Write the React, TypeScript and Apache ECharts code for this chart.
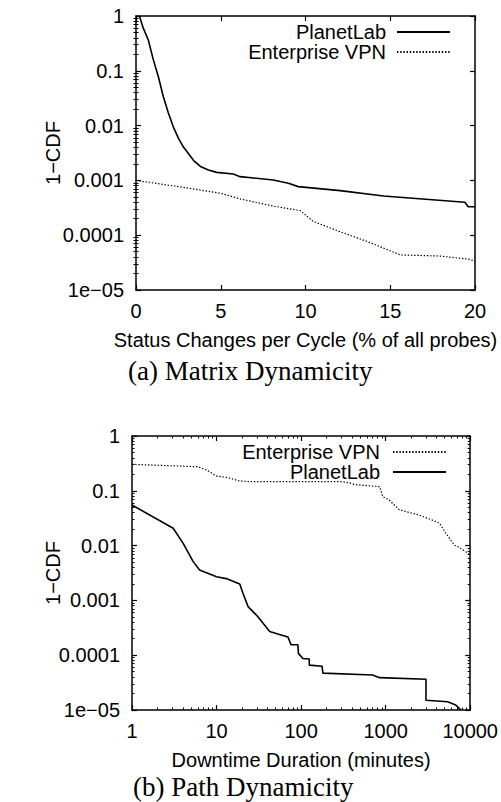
import React, { useEffect, useRef } from "react";
import * as echarts from "echarts";

// ---------- data ----------
const yTickLabels = ["1e−05", "0.0001", "0.001", "0.01", "0.1", "1"];
const pathXTickLabels = ["1", "10", "100", "1000", "10000"];

// (a) Matrix Dynamicity: [status changes per cycle (%), 1-CDF]
const matrixPlanetLab: [number, number][] = [
  [0.2, 1], [0.43, 0.6], [0.73, 0.36], [1.02, 0.16], [1.32, 0.078], [1.61, 0.034],
  [1.91, 0.017], [2.2, 0.0095], [2.5, 0.0059], [2.79, 0.0041], [3.09, 0.0031],
  [3.4, 0.0023], [3.8, 0.0018], [4.27, 0.00155], [4.76, 0.0014], [5.74, 0.00131], [6.14, 0.00117],
  [8.1, 0.00102], [8.99, 0.00089], [9.57, 0.00077], [12.04, 0.00065], [14.6, 0.00052],
  [19.4, 0.0004], [19.6, 0.00033], [20, 0.00033],
];
const matrixEnterprise: [number, number][] = [
  [0, 0.001], [2.5, 0.00077], [5, 0.00058], [6.14, 0.00046], [8.1, 0.00034],
  [9.7, 0.00028], [10.46, 0.000178], [12.04, 0.000116], [13.6, 0.0000776],
  [15.6, 0.0000436], [17.9, 0.0000417], [19.7, 0.0000363], [20, 0.000033],
];

// (b) Path Dynamicity: [downtime duration (minutes), 1-CDF]
const pathEnterprise: [number, number][] = [
  [1, 0.304], [6, 0.275], [7.6, 0.24], [10, 0.186], [13.7, 0.174], [18, 0.153],
  [24, 0.147], [300, 0.147], [372, 0.14], [430, 0.13], [850, 0.119], [925, 0.078],
  [1100, 0.068], [1450, 0.045], [2500, 0.036], [4300, 0.026], [5150, 0.017],
  [6500, 0.0102], [7400, 0.0093], [10000, 0.0068],
];
const pathPlanetLab: [number, number][] = [
  [1, 0.055], [3.07, 0.0207], [4.03, 0.011], [5.29, 0.0051], [6.3, 0.0036],
  [10, 0.0027], [13, 0.0025], [18.8, 0.002], [20.6, 0.00134], [23.6, 0.00077],
  [31, 0.0005], [42.5, 0.00027], [58, 0.000234], [70, 0.000214], [76, 0.000155],
  [91.6, 0.000155], [93, 0.000108], [105, 0.000087], [125, 0.000085], [125, 0.000066],
  [177, 0.000063], [181, 0.000047], [700, 0.0000436], [850, 0.0000389],
  [3000, 0.0000363], [3000, 0.0000151], [5400, 0.0000141], [6750, 0.0000123],
  [7800, 0.00001],
];

// ---------- styles ----------
const FONT = "'Liberation Sans', Arial, Helvetica, sans-serif";
const SERIF = "'Liberation Serif', 'Times New Roman', serif";
const BLACK = "#000";

function minorValues(fromExp: number, toExp: number): number[] {
  const out: number[] = [];
  for (let k = fromExp; k < toExp; k++) {
    for (let m = 2; m <= 9; m++) out.push(parseFloat((m * Math.pow(10, k)).toPrecision(6)));
  }
  return out;
}

const axisLineStyle = { show: true, onZero: false, lineStyle: { color: BLACK, width: 1.5 } };
const majorTick = { show: true, inside: true, length: 5, lineStyle: { color: BLACK, width: 1.2 } };
const labelStyle = { fontSize: 20, fontFamily: FONT, color: BLACK };
const logLabel = (v: number) => yTickLabels[Math.round(Math.log10(v)) + 5] ?? "";
const logXLabel = (v: number) => pathXTickLabels[Math.round(Math.log10(v))] ?? "";

export default function App() {
  const ref = useRef<HTMLDivElement>(null);

  useEffect(() => {
    document.body.style.margin = "0";
    if (!ref.current) return;
    const chart = echarts.init(ref.current, undefined, { renderer: "svg" });

    const yMinor = minorValues(-5, 0);
    const xMinor = minorValues(0, 4);

    const yLog = (grid: number, position: "left" | "right", main: boolean, minor: boolean) => ({
      type: "log",
      logBase: 10,
      gridIndex: grid,
      position,
      min: 1e-5,
      max: 1,
      interval: 1,
      axisLine: minor ? { show: false } : axisLineStyle,
      axisTick: minor
        ? { show: true, inside: true, length: 2.5, customValues: yMinor, lineStyle: { color: BLACK, width: 1 } }
        : majorTick,
      splitLine: { show: false },
      axisLabel: main
        ? { ...labelStyle, margin: 12, formatter: logLabel, showMinLabel: true, showMaxLabel: true }
        : { show: false },
    });

    const xLinear = (position: "bottom" | "top", main: boolean) => ({
      type: "value",
      gridIndex: 0,
      position,
      min: 0,
      max: 20,
      interval: 5,
      axisLine: axisLineStyle,
      axisTick: majorTick,
      splitLine: { show: false },
      axisLabel: main ? { ...labelStyle, margin: 11 } : { show: false },
      name: main ? "Status Changes per Cycle (% of all probes)" : "",
      nameLocation: "middle",
      nameGap: 40,
      nameTextStyle: labelStyle,
    });

    const xLog = (position: "bottom" | "top", main: boolean, minor: boolean) => ({
      type: "log",
      logBase: 10,
      gridIndex: 1,
      position,
      min: 1,
      max: 10000,
      interval: 1,
      axisLine: minor ? { show: false } : axisLineStyle,
      axisTick: minor
        ? { show: true, inside: true, length: 2.5, customValues: xMinor, lineStyle: { color: BLACK, width: 1 } }
        : majorTick,
      splitLine: { show: false },
      axisLabel: main ? { ...labelStyle, margin: 11, formatter: logXLabel } : { show: false },
      name: main ? "Downtime Duration (minutes)" : "",
      nameLocation: "middle",
      nameGap: 40,
      nameTextStyle: labelStyle,
    });

    const solid = { color: BLACK, width: 1.6, type: "solid" as const };
    const dotted = { color: BLACK, width: 1.2, type: [1.4, 1.8] as any };

    const lineSeries = (name: string, data: [number, number][], xi: number, yi: number, style: any) => ({
      type: "line",
      name,
      data,
      xAxisIndex: xi,
      yAxisIndex: yi,
      showSymbol: false,
      symbol: "none",
      lineStyle: style,
      itemStyle: { color: BLACK },
      clip: true,
      silent: true,
    });

    const legendBase = {
      orient: "vertical",
      align: "right",
      itemWidth: 53,
      itemHeight: 10,
      itemGap: 0,
      padding: 0,
      selectedMode: false,
      itemStyle: { opacity: 0, borderWidth: 0 },
    };

    const yTitle = (x: number, y: number) => ({
      type: "text",
      x,
      y,
      rotation: Math.PI / 2,
      style: {
        text: "1−CDF",
        x: 0,
        y: 0,
        align: "center",
        verticalAlign: "middle",
        fontFamily: FONT,
        fontSize: 20,
        fill: BLACK,
      },
    });

    chart.setOption({
      animation: false,
      backgroundColor: "#fff",
      grid: [
        { left: 136, top: 16, width: 339, height: 274 },
        { left: 132, top: 436, width: 339, height: 274 },
      ],
      xAxis: [
        xLinear("bottom", true),
        xLinear("top", false),
        xLog("bottom", true, false),
        xLog("top", false, false),
        xLog("bottom", false, true),
        xLog("top", false, true),
      ],
      yAxis: [
        yLog(0, "left", true, false),
        yLog(0, "right", false, false),
        yLog(0, "left", false, true),
        yLog(0, "right", false, true),
        yLog(1, "left", true, false),
        yLog(1, "right", false, false),
        yLog(1, "left", false, true),
        yLog(1, "right", false, true),
      ],
      legend: [
        {
          ...legendBase,
          right: 50,
          top: 22,
          data: ["PlanetLab", "Enterprise VPN"],
          textStyle: { ...labelStyle, lineHeight: 19, padding: [0, 6, 0, 0] },
        },
        {
          ...legendBase,
          right: 54,
          top: 442,
          data: ["Enterprise VPN", "PlanetLab"],
          textStyle: { ...labelStyle, lineHeight: 20, padding: [0, 8, 0, 0] },
        },
      ],
      series: [
        lineSeries("PlanetLab", matrixPlanetLab, 0, 0, solid),
        lineSeries("Enterprise VPN", matrixEnterprise, 0, 0, dotted),
        lineSeries("Enterprise VPN", pathEnterprise, 2, 4, dotted),
        lineSeries("PlanetLab", pathPlanetLab, 2, 4, solid),
      ],
      graphic: [
        yTitle(53, 153),
        yTitle(53, 573),
        {
          type: "text",
          left: 128,
          top: 357,
          style: { text: "(a) Matrix Dynamicity", fontFamily: SERIF, fontSize: 27, fill: BLACK },
        },
        {
          type: "text",
          left: 133,
          top: 773,
          style: { text: "(b) Path Dynamicity", fontFamily: SERIF, fontSize: 27, fill: BLACK },
        },
      ],
    });

    return () => chart.dispose();
  }, []);

  return <div ref={ref} style={{ width: 501, height: 802 }} />;
}
